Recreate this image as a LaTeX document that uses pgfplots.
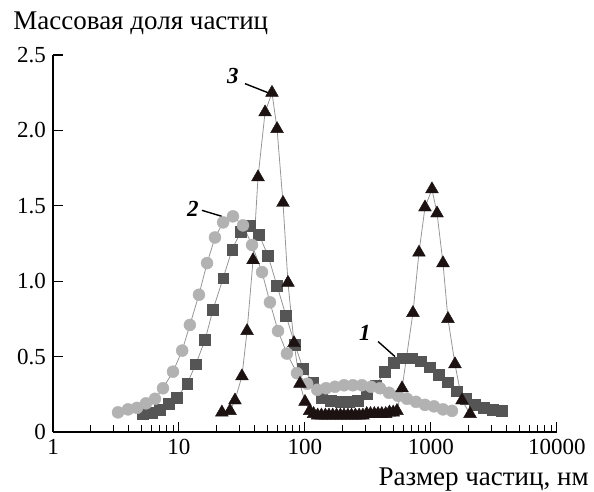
\documentclass[border=0pt]{standalone}
\usepackage{fontspec}
\setmainfont{Liberation Serif}
\usepackage{pgfplots}
\pgfplotsset{compat=1.18}
\definecolor{cgray}{RGB}{178,178,178}
\definecolor{sgray}{RGB}{85,85,85}
\definecolor{tblack}{RGB}{28,18,18}
\definecolor{lgray}{RGB}{150,150,150}
\begin{document}
\begin{tikzpicture}
\useasboundingbox (-26.5pt,-30pt) rectangle (270.5pt,216pt);
\begin{axis}[
  at={(0,0)}, anchor=south west,
  scale only axis, width=252pt, height=188.5pt,
  xmode=log, xmin=1, xmax=10000, ymin=0, ymax=2.5,
  axis lines=left, axis line style={-, line width=0.6pt},
  tick align=inside,
  major tick length=5pt, minor tick length=3.5pt,
  xtick={1,10,100,1000,10000}, xticklabels={1,10,100,1000,10000},
  ytick={0,0.5,1,1.5,2,2.5}, yticklabels={0,0.5,1.0,1.5,2.0,2.5},
  ytick style={black, line width=0.6pt},
  xtick style={black, line width=0.5pt},
  ticklabel style={font=\fontsize{11.5}{13}\selectfont},
  clip=false,
]
% series 1: squares
\addplot[lgray, line width=0.4pt, mark=square*, mark size=2.7pt,
  mark options={draw=sgray, fill=sgray, line width=0.2pt}] coordinates {
(5.18,0.12) (6.10,0.13) (7.06,0.15) (8.33,0.19) (9.64,0.23) (11.6,0.32)
(13.6,0.45) (16.1,0.61) (18.6,0.81) (22.4,1.02) (26.4,1.21) (31.0,1.33)
(36.6,1.37) (43.1,1.31) (50.8,1.17) (60.0,0.97) (70.7,0.77) (83.3,0.58)
(96.4,0.42) (116,0.33) (136,0.23) (161,0.21) (190,0.20) (223,0.20)
(263,0.21) (311,0.25) (366,0.31) (431,0.40) (508,0.46) (600,0.49)
(707,0.49) (833,0.47) (982,0.43) (1157,0.38) (1364,0.33) (1607,0.27)
(1895,0.22) (2234,0.18) (2633,0.16) (3103,0.15) (3658,0.14)
};
% series 2: circles
\addplot[lgray, line width=0.4pt, mark=*, mark size=3.0pt,
  mark options={draw=cgray, fill=cgray, line width=0.2pt}] coordinates {
(3.28,0.13) (3.94,0.15) (4.64,0.16) (5.47,0.19) (6.45,0.22) (7.46,0.29)
(8.96,0.40) (10.6,0.54) (12.2,0.71) (14.4,0.91) (16.7,1.12) (19.3,1.29)
(22.4,1.39) (26.8,1.43) (32.2,1.37) (38.0,1.24) (45.6,1.06) (52.7,0.86)
(61.1,0.67) (71.9,0.52) (86.4,0.39) (104,0.32) (125,0.28) (147,0.29)
(173,0.30) (204,0.31) (240,0.31) (283,0.31) (334,0.30) (394,0.29)
(464,0.26) (547,0.24) (645,0.22) (760,0.20) (896,0.18) (1056,0.17)
(1245,0.15) (1468,0.14)
};
% series 3: triangles
\addplot[lgray, line width=0.4pt, mark=triangle*, mark size=3.7pt,
  mark options={draw=tblack, fill=tblack, line width=0.2pt}] coordinates {
(21.9,0.13) (25.4,0.14) (27.8,0.21) (31.6,0.37) (34.7,0.67) (38.7,1.14)
(42.4,1.69) (48.2,2.12) (54.7,2.25) (60.0,2.01) (66.9,1.52) (73.3,0.99)
(81.8,0.59) (91.2,0.32) (100,0.20)
(109,0.14) (117,0.12) (126,0.11) (135,0.11) (145,0.11) (155,0.11)
(166,0.11) (178,0.11) (191,0.11) (204,0.11) (219,0.11) (234,0.11)
(251,0.11) (269,0.11) (288,0.11) (309,0.12) (331,0.12) (355,0.12)
(380,0.12) (407,0.12) (437,0.12) (468,0.13) (501,0.13) (537,0.14)
(589,0.29) (719,0.79) (803,1.19) (896,1.49) (1018,1.61) (1117,1.45)
(1245,1.12) (1364,0.75) (1550,0.45) (1762,0.21) (2041,0.12)
};
% annotations
\draw[black, line width=0.7pt] (axis cs:33.4,2.31) -- (axis cs:50.8,2.25);
\node[font=\fontsize{11.5}{13}\selectfont\itshape\bfseries] at (axis cs:26.8,2.36) {3};
\draw[black, line width=0.7pt] (axis cs:15.2,1.47) -- (axis cs:21.9,1.43);
\node[font=\fontsize{11.5}{13}\selectfont\itshape\bfseries] at (axis cs:12.9,1.48) {2};
\draw[black, line width=0.7pt] (axis cs:380,0.60) -- (axis cs:518,0.50);
\node[font=\fontsize{11.5}{13}\selectfont\itshape\bfseries] at (axis cs:299,0.66) {1};
\end{axis}
\node[anchor=base west, font=\fontsize{13.5}{15}\selectfont, inner sep=0pt] at (-20pt,201pt) {Массовая доля частиц};
\node[anchor=base east, font=\fontsize{13.5}{15}\selectfont, inner sep=0pt] at (268pt,-27pt) {Размер частиц, нм};
\end{tikzpicture}
\end{document}
